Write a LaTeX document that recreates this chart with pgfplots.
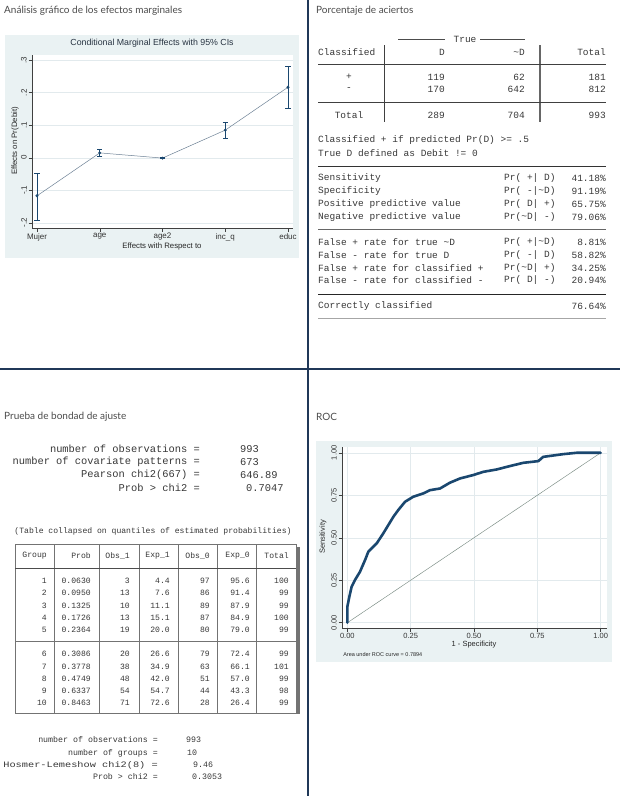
\documentclass[border=0pt]{standalone}
\usepackage{pgfplots}
\pgfplotsset{compat=1.18}
\usepackage{fontspec}
\setmainfont{Liberation Sans}
\newfontfamily\headfont{Lato}
\newfontfamily\mono{Liberation Mono}
\definecolor{stbg}{RGB}{234,242,243}
\definecolor{navy}{RGB}{26,71,111}
\definecolor{divc}{RGB}{32,56,88}
\definecolor{headc}{RGB}{75,75,75}
\definecolor{monoc}{RGB}{55,55,55}
\definecolor{gridc}{RGB}{226,234,237}
\definecolor{linec}{RGB}{110,130,150}
\definecolor{titlec}{RGB}{40,52,66}
\definecolor{diagc}{RGB}{120,138,130}
\newcommand{\ms}[1]{\mono\fontsize{#1}{#1}\selectfont}
\newcommand{\tld}{\string~}
\begin{document}
\begin{tikzpicture}
\path[use as bounding box] (0pt,0pt) rectangle (620pt,-796pt);
\begin{scope}[x=1pt,y=-1pt,every node/.style={inner sep=0pt}]
% panel backgrounds
\fill[stbg] (5,35) rectangle (299,258);
\fill[stbg] (316,441) rectangle (612,662);
% dividers
\draw[divc,line width=1.2pt] (308,0) -- (308,796);
\draw[divc,line width=1.2pt] (0,369) -- (620,369);
% headings
\begin{scope}[every node/.style={inner sep=0pt,anchor=west,text=headc,font=\headfont\fontsize{10}{12}\selectfont}]
\node at (4,11) {Análisis gráfico de los efectos marginales};
\node at (316,11) {Porcentaje de aciertos};
\node at (4,417) {Prueba de bondad de ajuste};
\node at (316,417) {ROC};
\end{scope}
\coordinate (M1) at (32,228);
\coordinate (R1) at (342,628);
% ---------- classification table ----------
\begin{scope}[every node/.style={inner sep=0pt,text=monoc,font=\ms{9.5}}]
\node at (465,39) {True};
\draw[black!70,line width=0.6pt] (398,39) -- (445,39) (480,39) -- (525,39);
\node[anchor=west] at (318,52) {Classified};
\node at (442,52) {D};
\node[anchor=east] at (525,52) {\tld D};
\node[anchor=east] at (606,52) {Total};
\draw[black!75,line width=0.7pt] (384,45) -- (384,122);
\draw[black!60,line width=1.6pt] (540,45) -- (540,122);
\draw[black!75,line width=0.7pt] (318,64) -- (606,64);
\node at (349,77) {+};
\node[anchor=east] at (445,77) {119};
\node[anchor=east] at (525,77) {62};
\node[anchor=east] at (606,77) {181};
\node at (349,89) {-};
\node[anchor=east] at (445,89) {170};
\node[anchor=east] at (525,89) {642};
\node[anchor=east] at (606,89) {812};
\draw[black!75,line width=0.7pt] (318,102) -- (606,102);
\node at (349,115) {Total};
\node[anchor=east] at (445,115) {289};
\node[anchor=east] at (525,115) {704};
\node[anchor=east] at (606,115) {993};
\node[anchor=west] at (318,140) {Classified + if predicted Pr(D) >= .5};
\node[anchor=west] at (318,153) {True D defined as Debit != 0};
\draw[black!80,line width=0.9pt] (318,166) -- (606,166);
\foreach \y/\a/\b/\c in {178/Sensitivity/{Pr(\ +|\ D)}/{41.18\%},
  191/Specificity/{Pr(\ -|\tld D)}/{91.19\%},
  204/Positive predictive value/{Pr(\ D|\ +)}/{65.75\%},
  217/Negative predictive value/{Pr(\tld D|\ -)}/{79.06\%},
  242/{False + rate for true \tld D}/{Pr(\ +|\tld D)}/{8.81\%},
  255/{False - rate for true D}/{Pr(\ -|\ D)}/{58.82\%},
  268/{False + rate for classified +}/{Pr(\tld D|\ +)}/{34.25\%},
  280/{False - rate for classified -}/{Pr(\ D|\ -)}/{20.94\%}}{
  \node[anchor=west] at (318,\y) {\a};
  \node[anchor=west] at (504,\y) {\b};
  \node[anchor=east] at (606,\y) {\c};
}
\draw[black!60,line width=0.7pt] (318,229) -- (606,229);
\draw[black!85,line width=0.9pt] (318,294) -- (606,294);
\node[anchor=west] at (318,306) {Correctly classified};
\node[anchor=east] at (606,306) {76.64\%};
\draw[black!35,line width=0.6pt] (318,318) -- (606,318);
\end{scope}
% ---------- goodness of fit ----------
\begin{scope}[every node/.style={inner sep=0pt,text=monoc,font=\ms{10.4}}]
\node[anchor=east] at (200,449) {number of observations =};
\node[anchor=east] at (200,462) {number of covariate patterns =};
\node[anchor=east] at (200,475) {Pearson chi2(667) =};
\node[anchor=east] at (200,488) {Prob > chi2 =};
\node[anchor=west] at (240,449) {993};
\node[anchor=west] at (240,462) {673};
\node[anchor=west] at (240,475) {646.89};
\node[anchor=west] at (246,488) {0.7047};
\end{scope}
\begin{scope}[every node/.style={inner sep=0pt,text=monoc,font=\ms{8.1}}]
\node at (153,531) {(Table collapsed on quantiles of estimated probabilities)};
\fill[black!55] (296.5,547) rectangle (300,714);
\fill[white] (15,544) rectangle (296,713);
\draw[black!55,line width=0.6pt] (15,544) rectangle (296,713);
\foreach \x in {54,99,139,178,217,256} \draw[black!55,line width=0.6pt] (\x,544) -- (\x,713);
\draw[black!70,line width=0.8pt] (15,568) -- (296,568);
\draw[black!55,line width=0.6pt] (15,641) -- (296,641);
\node[anchor=east] at (47,556) {Group};
\node[anchor=east] at (91,556) {Prob};
\node[anchor=east] at (130,556) {Obs\_1};
\node[anchor=east] at (170,556) {Exp\_1};
\node[anchor=east] at (210,556) {Obs\_0};
\node[anchor=east] at (250,556) {Exp\_0};
\node[anchor=east] at (289,556) {Total};
\foreach \y/\g/\p/\oa/\ea/\ob/\eb/\t in {581/1/0.0630/3/4.4/97/95.6/100,
  593/2/0.0950/13/7.6/86/91.4/99,
  605.5/3/0.1325/10/11.1/89/87.9/99,
  618/4/0.1726/13/15.1/87/84.9/100,
  630/5/0.2364/19/20.0/80/79.0/99,
  654/6/0.3086/20/26.6/79/72.4/99,
  666.5/7/0.3778/38/34.9/63/66.1/101,
  678.5/8/0.4749/48/42.0/51/57.0/99,
  691/9/0.6337/54/54.7/44/43.3/98,
  703/10/0.8463/71/72.6/28/26.4/99}{
  \node[anchor=east] at (47,\y) {\g};
  \node[anchor=east] at (91,\y) {\p};
  \node[anchor=east] at (130,\y) {\oa};
  \node[anchor=east] at (170,\y) {\ea};
  \node[anchor=east] at (210,\y) {\ob};
  \node[anchor=east] at (250,\y) {\eb};
  \node[anchor=east] at (289,\y) {\t};
}
\end{scope}
\begin{scope}[every node/.style={inner sep=0pt,text=monoc,font=\ms{8.3}}]
\node[anchor=east] at (158,740) {number of observations =};
\node[anchor=east] at (158,753) {number of groups =};
\node[anchor=east] at (158,765) {\scalebox{1.24}[1]{Hosmer-Lemeshow chi2(8) =}};
\node[anchor=east] at (158,777) {Prob > chi2 =};
\node[anchor=west] at (186,740) {993};
\node[anchor=west] at (187,753) {10};
\node[anchor=west] at (193,765) {9.46};
\node[anchor=west] at (192,777) {0.3053};
\end{scope}
\end{scope}
% ---------- marginal effects ----------
\begin{axis}[at={(M1)}, anchor=south west, scale only axis,
  width=261pt, height=173pt,
  xmin=-0.08, xmax=4.08, ymin=-0.216, ymax=0.316,
  axis background/.style={fill=white},
  axis x line*=bottom, axis y line*=left,
  axis line style={black!75, line width=0.5pt},
  xtick={0,1,2,3,4}, xticklabels={Mujer,age,age2,inc\_q,educ},
  ytick={-0.2,-0.1,0,0.1,0.2,0.3}, yticklabels={-.2,-.1,0,.1,.2,.3},
  tick align=outside, major tick length=3.5pt,
  tick style={black!75, line width=0.5pt},
  ymajorgrids, grid style={gridc, line width=0.5pt},
  ticklabel style={font=\fontsize{8}{8}\selectfont, text=black!80},
  yticklabel style={rotate=90, anchor=south, inner sep=1.5pt},
  xticklabel style={anchor=north, inner sep=1.5pt},
  title={Conditional Marginal Effects with 95\% CIs},
  title style={at={(axis description cs:0.46,1.035)}, anchor=center, inner sep=0pt, font=\fontsize{8.8}{9}\selectfont, text=titlec},
  xlabel={Effects with Respect to},
  xlabel style={at={(axis description cs:0.498,-0.108)}, anchor=center, inner sep=0pt, font=\fontsize{7.8}{8}\selectfont, text=black!85},
  ylabel={Effects on Pr(Debit)},
  ylabel style={at={(axis description cs:-0.065,0.503)}, anchor=center, inner sep=0pt, font=\fontsize{7.8}{8}\selectfont, text=black!85},
  clip=false,
]
\addplot[draw=linec, line width=0.5pt, no marks] table {
x y
0 -0.117
1 0.015
2 -0.001
3 0.085
4 0.217
};
\addplot[only marks, mark=*, mark size=1.3pt, navy,
  error bars/.cd, y dir=both, y explicit,
  error bar style={navy, line width=0.6pt},
  error mark=-,
  error mark options={navy, rotate=90, mark size=2.6pt, line width=0.6pt}]
  table[x=x, y=y, y error plus=ep, y error minus=em] {
x y ep em
0 -0.117 0.069 0.075
1 0.015 0.011 0.010
2 -0.001 0.001 0.001
3 0.085 0.024 0.025
4 0.217 0.065 0.065
};
\end{axis}
% ---------- ROC ----------
\begin{axis}[at={(R1)}, anchor=south west, scale only axis,
  width=265pt, height=181pt,
  xmin=-0.021, xmax=1.025, ymin=-0.031, ymax=1.034,
  axis background/.style={fill=white},
  axis x line*=bottom, axis y line*=left,
  axis line style={black!75, line width=0.5pt},
  xtick={0,0.25,0.5,0.75,1}, xticklabels={0.00,0.25,0.50,0.75,1.00},
  ytick={0,0.25,0.5,0.75,1}, yticklabels={0.00,0.25,0.50,0.75,1.00},
  tick align=outside, major tick length=3.5pt,
  tick style={black!75, line width=0.5pt},
  xmajorgrids, ymajorgrids, grid style={gridc, line width=0.5pt},
  ticklabel style={font=\fontsize{7.5}{8}\selectfont, text=black!80},
  yticklabel style={rotate=90, anchor=south, inner sep=1.5pt},
  xticklabel style={anchor=north, inner sep=1.5pt},
  xlabel={1 - Specificity},
  xlabel style={at={(axis description cs:0.498,-0.094)}, anchor=center, inner sep=0pt, font=\fontsize{7.5}{8}\selectfont, text=black!85},
  ylabel={Sensitivity},
  ylabel style={at={(axis description cs:-0.072,0.503)}, anchor=center, inner sep=0pt, font=\fontsize{7.5}{8}\selectfont, text=black!85},
  clip=false,
]
\addplot[diagc, line width=0.45pt, no marks] coordinates {(0,0) (1,1)};
\addplot[navy, line width=2.6pt, line join=round, line cap=round, no marks] table {
x y
0 0
0 0.094
0.008 0.153
0.017 0.212
0.030 0.251
0.050 0.300
0.070 0.369
0.083 0.418
0.116 0.467
0.142 0.526
0.162 0.575
0.182 0.624
0.201 0.663
0.228 0.712
0.260 0.741
0.300 0.761
0.326 0.780
0.366 0.790
0.405 0.824
0.445 0.849
0.497 0.869
0.537 0.888
0.590 0.902
0.642 0.922
0.695 0.941
0.754 0.951
0.773 0.976
0.852 0.992
0.905 1.0
1 1
};
\node[anchor=west, inner sep=0pt, font=\fontsize{5.5}{6}\selectfont, text=black!85] at (axis description cs:0.004,-0.149) {Area under ROC curve = 0.7894};
\end{axis}
\end{tikzpicture}
\end{document}
